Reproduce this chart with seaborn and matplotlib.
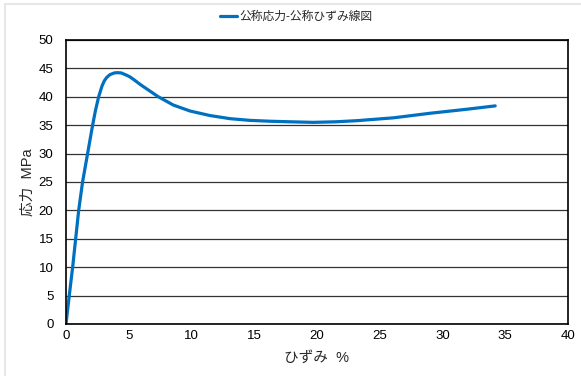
import matplotlib
matplotlib.use("Agg")
import matplotlib.pyplot as plt
from matplotlib.patches import Rectangle
import seaborn as sns
import pandas as pd

# Nominal stress-strain curve
strain = [0, 0.26, 0.53, 0.77, 1.01, 1.32, 1.52, 1.72, 1.92, 2.12, 2.34, 2.6,
          2.87, 3.05, 3.24, 3.5, 3.85, 4.1, 4.4, 4.83, 5.1, 5.42, 5.9, 6.16,
          7.36, 8.55, 9.88, 11.47, 13.07, 14.66, 16.25, 17.85, 19.7, 21.5,
          23.2, 26.1, 29.0, 31.9, 34.2]
stress = [0, 5, 10, 15, 20, 25, 27.5, 30, 32.5, 35, 37.5, 40,
          41.9, 42.8, 43.4, 43.9, 44.2, 44.25, 44.2, 43.8, 43.5, 43.0, 42.2, 41.8,
          40.0, 38.55, 37.5, 36.7, 36.15, 35.85, 35.7, 35.6, 35.5, 35.6,
          35.8, 36.3, 37.1, 37.8, 38.4]
series_name = "公称応力-公称ひずみ線図"
x_ticks = [0, 5, 10, 15, 20, 25, 30, 35, 40]
y_ticks = [0, 5, 10, 15, 20, 25, 30, 35, 40, 45, 50]

sns.set_theme(style="white")
plt.rcParams["font.family"] = ["Liberation Sans", "Noto Sans CJK JP", "DejaVu Sans"]

df = pd.DataFrame({"ひずみ": strain, "応力": stress, "系列": series_name})

W, H = 581, 376
fig = plt.figure(figsize=(W / 100, H / 100), dpi=100)
# light chart-area border
fig.patches.append(Rectangle((5 / W, -0.1), 1.2, 1.1 - 4 / H, transform=fig.transFigure,
                             fill=False, edgecolor="#e3e3e3", linewidth=1.2))

ax = fig.add_axes([66 / W, 1 - 324 / H, (568 - 66) / W, (324 - 40) / H])

sns.lineplot(data=df, x="ひずみ", y="応力", hue="系列", palette=["#0070c0"],
             linewidth=2.3, sort=False, ax=ax, estimator=None)

ax.set_xlim(0, 40)
ax.set_ylim(0, 50)
ax.set_xticks(x_ticks)
ax.set_yticks(y_ticks)
ax.tick_params(axis="both", labelsize=9.5, colors="black", length=0)
ax.tick_params(axis="y", pad=9)
ax.tick_params(axis="x", pad=4)
ax.yaxis.grid(True, color="#333333", linewidth=0.9)
ax.xaxis.grid(False)
for s in ax.spines.values():
    s.set_color("black")
    s.set_linewidth(1.2)

ax.set_xlabel("ひずみ  %", fontsize=10.5, labelpad=7)
ax.set_ylabel("応力  MPa", fontsize=10.5, labelpad=3)

ax.get_legend().remove()
handles, labels = ax.get_legend_handles_labels()
leg = fig.legend(handles, labels, loc="center", bbox_to_anchor=(296 / W, 1 - 17 / H),
                 frameon=False, fontsize=8.5, handlelength=1.5, handletextpad=0.15)
for line in leg.get_lines():
    line.set_linewidth(2.3)

fig.savefig("out.png", dpi=100)
